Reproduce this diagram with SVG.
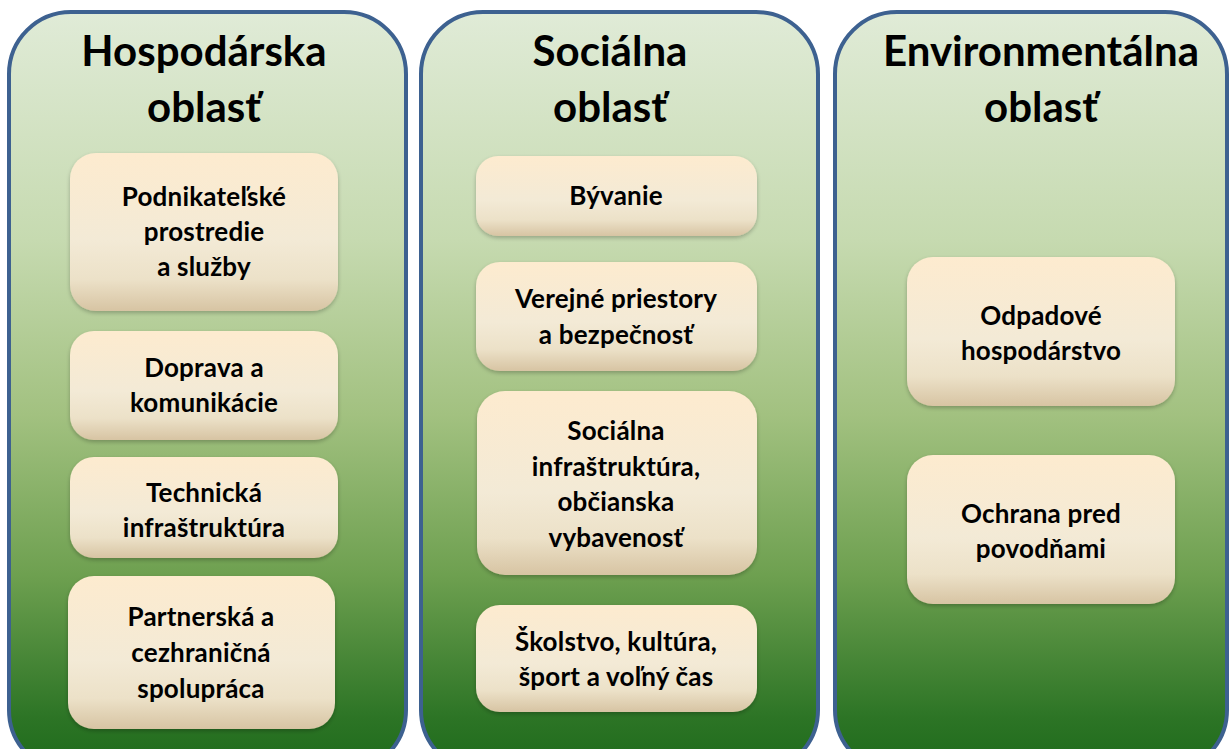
<svg xmlns="http://www.w3.org/2000/svg" width="1229" height="749" viewBox="0 0 1229 749">
<defs>
<linearGradient id="colG" x1="0" y1="0" x2="0" y2="1">
<stop offset="0" stop-color="#e0ebd7"/>
<stop offset="0.3" stop-color="#c6dab0"/>
<stop offset="0.53" stop-color="#a2c180"/>
<stop offset="0.74" stop-color="#6ea050"/>
<stop offset="0.93" stop-color="#2c7425"/>
<stop offset="1" stop-color="#1d6a1a"/>
</linearGradient>
<linearGradient id="boxG" x1="0" y1="0" x2="0" y2="1">
<stop offset="0" stop-color="#fdebcf"/>
<stop offset="0.55" stop-color="#f3ead6"/>
<stop offset="0.8" stop-color="#ece1c8"/>
<stop offset="1" stop-color="#d7c4a3"/>
</linearGradient>
<filter id="sh" x="-10%" y="-10%" width="120%" height="125%">
<feGaussianBlur in="SourceAlpha" stdDeviation="2"/>
<feOffset dx="0" dy="2"/>
<feComponentTransfer><feFuncA type="linear" slope="0.25"/></feComponentTransfer>
<feMerge><feMergeNode/><feMergeNode in="SourceGraphic"/></feMerge>
</filter>
</defs>
<style>
.col{fill:url(#colG);stroke:#3d6190;stroke-width:4}
.box{fill:url(#boxG);filter:url(#sh)}
.t{font-family:Lato,"Open Sans","Liberation Sans",sans-serif;font-weight:bold;fill:#000;text-anchor:middle}
.h{font-size:42px}
.b{font-size:26px;letter-spacing:0.2px}
</style>
<g id="col-hospodarska">
<rect class="col" x="9" y="12" width="397" height="760" rx="62"/>
<text class="t h" x="204" y="66">Hospodárska</text>
<text class="t h" x="204" y="122">oblasť</text>
</g>
<g id="col-socialna">
<rect class="col" x="421" y="12" width="397" height="760" rx="62"/>
<text class="t h" x="610" y="66">Sociálna</text>
<text class="t h" x="610" y="122">oblasť</text>
</g>
<g id="col-environmentalna">
<rect class="col" x="835" y="12" width="392" height="760" rx="62"/>
<text class="t h" x="1041" y="66">Environmentálna</text>
<text class="t h" x="1041" y="122">oblasť</text>
</g>
<g id="n-podnikatelske">
<rect class="box" x="70" y="153" width="268" height="158" rx="26"/>
<text class="t b" x="204" y="206">Podnikateľské</text>
<text class="t b" x="204" y="241">prostredie</text>
<text class="t b" x="204" y="276">a služby</text>
</g>
<g id="n-doprava">
<rect class="box" x="70" y="331" width="268" height="109" rx="24"/>
<text class="t b" x="204" y="377">Doprava a</text>
<text class="t b" x="204" y="412">komunikácie</text>
</g>
<g id="n-technicka">
<rect class="box" x="70" y="457" width="268" height="101" rx="24"/>
<text class="t b" x="204" y="502">Technická</text>
<text class="t b" x="204" y="537">infraštruktúra</text>
</g>
<g id="n-partnerska">
<rect class="box" x="68" y="576" width="267" height="153" rx="26"/>
<text class="t b" x="201" y="626">Partnerská a</text>
<text class="t b" x="201" y="662">cezhraničná</text>
<text class="t b" x="201" y="698">spolupráca</text>
</g>
<g id="n-byvanie">
<rect class="box" x="476" y="156" width="281" height="80" rx="22"/>
<text class="t b" x="616" y="205">Bývanie</text>
</g>
<g id="n-verejne">
<rect class="box" x="476" y="262" width="281" height="109" rx="24"/>
<text class="t b" x="616" y="308">Verejné priestory</text>
<text class="t b" x="616" y="344">a bezpečnosť</text>
</g>
<g id="n-socialna-infra">
<rect class="box" x="477" y="391" width="280" height="184" rx="28"/>
<text class="t b" x="616" y="440">Sociálna</text>
<text class="t b" x="616" y="476">infraštruktúra,</text>
<text class="t b" x="616" y="511">občianska</text>
<text class="t b" x="616" y="547">vybavenosť</text>
</g>
<g id="n-skolstvo">
<rect class="box" x="476" y="605" width="281" height="107" rx="24"/>
<text class="t b" x="616" y="651">Školstvo, kultúra,</text>
<text class="t b" x="616" y="686">šport a voľný čas</text>
</g>
<g id="n-odpadove">
<rect class="box" x="907" y="257" width="268" height="149" rx="26"/>
<text class="t b" x="1041" y="325">Odpadové</text>
<text class="t b" x="1041" y="360">hospodárstvo</text>
</g>
<g id="n-ochrana">
<rect class="box" x="907" y="455" width="268" height="149" rx="26"/>
<text class="t b" x="1041" y="523">Ochrana pred</text>
<text class="t b" x="1041" y="558">povodňami</text>
</g>
<g id="connectors"></g>
</svg>
